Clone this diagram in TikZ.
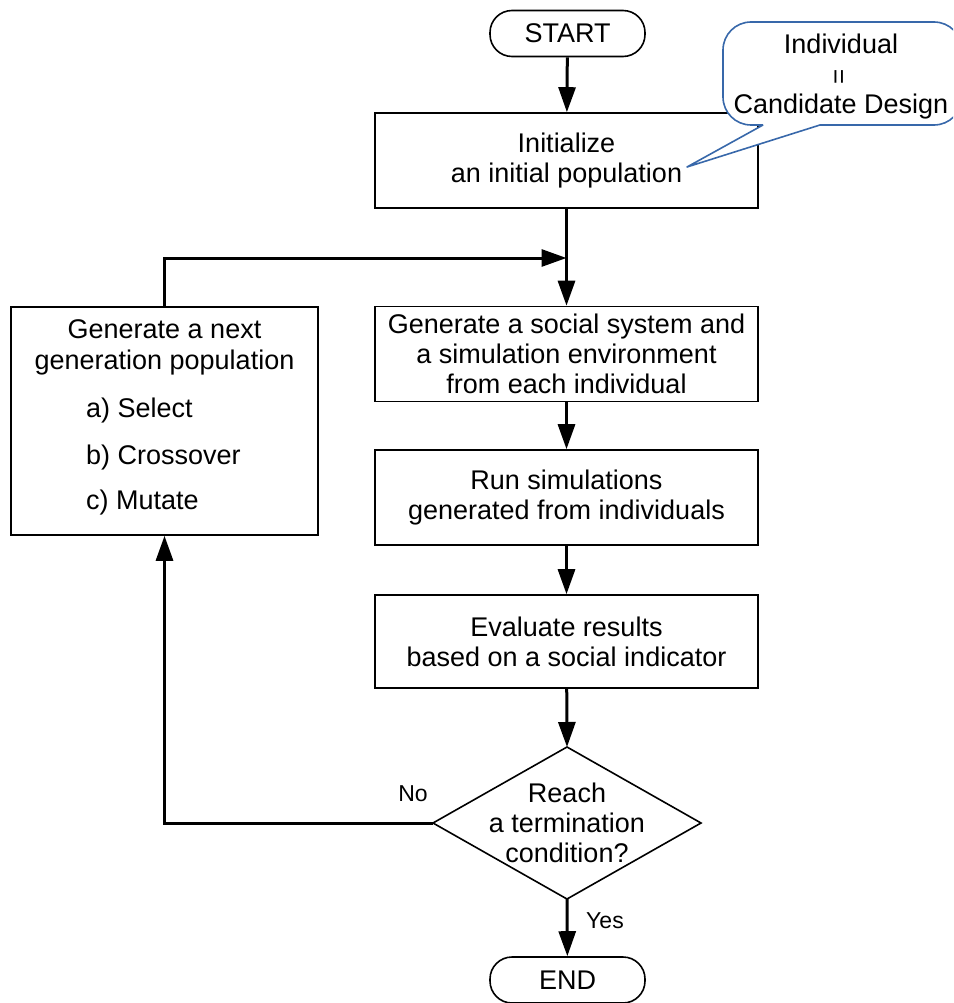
\documentclass[tikz,border=0pt]{standalone}
\usepackage{fontspec}
\setmainfont{Liberation Sans}
\usetikzlibrary{arrows.meta}
\definecolor{calloutblue}{RGB}{56,104,170}
\begin{document}
\begin{tikzpicture}[x=1pt,y=-1pt,
  txt/.style={font=\fontsize{27}{30}\selectfont, align=center, inner sep=0pt},
  lbl/.style={font=\fontsize{23}{26}\selectfont, inner sep=0pt},
  procbox/.style={draw, line width=1.6pt, minimum width=383pt, minimum height=95pt, txt},
  termbox/.style={draw, line width=1.6pt, rounded corners=22pt, minimum width=155pt, minimum height=46pt, txt},
  flow/.style={line width=3pt, -{Triangle[length=25pt,width=17pt]}},
  callout/.style={draw=calloutblue, line width=1.6pt, line join=round}]
\useasboundingbox (0,0) rectangle (953,1003);

% terminals
\node[termbox] (start) at (567.5,33.5) {START};
\node[termbox] (end) at (567.5,980) {END};

% process boxes of the main column
\node[procbox] (init) at (566.5,160.5) {Initialize\\an initial population};
\node[procbox] (social) at (566.5,354) {Generate a social system and\\a simulation environment\\from each individual};
\node[procbox] (run) at (566.5,497.5) {Run simulations\\generated from individuals};
\node[procbox, minimum height=93pt] (eval) at (566.5,641.5) {Evaluate results\\based on a social indicator};

% next-generation box with its step list
\node[draw, line width=1.6pt, minimum width=307pt, minimum height=228pt, inner sep=0pt] (gen) at (164.5,421) {};
\node[txt, font=\fontsize{27}{31}\selectfont] (gentitle) at (164.5,347) {Generate a next\\generation population};
\node[txt, anchor=base west] (sel) at (86,417.5) {a) Select};
\node[txt, anchor=base west] (cross) at (86,464) {b) Crossover};
\node[txt, anchor=base west] (mut) at (86,509.5) {c) Mutate};

% decision diamond
\draw[line width=1.6pt, line join=miter]
  (567,747) coordinate (dt) -- (701,823) coordinate (dr)
  -- (567,899) coordinate (db) -- (433,823) coordinate (dl) -- cycle;
\node[txt] (cond) at (567,823) {Reach\\a termination\\condition?};

% connectors
\coordinate (merge) at (566.5,258);
\draw[flow] (start) -- (init);
\draw[flow] (init) -- (social);
\draw[flow] (gen.north) |- (merge);
\draw[flow] (social) -- (run);
\draw[flow] (run) -- (eval);
\draw[flow] (eval) -- (dt);
\draw[flow] (db) -- (end);
\draw[flow] (dl) -| (gen.south);

\node[lbl, anchor=base] (nolbl) at (413,801) {No};
\node[lbl, anchor=base] (yeslbl) at (605,928) {Yes};

% callout balloon, drawn over the first box
\begin{scope}
\clip (0,0) rectangle (953,1003);
\fill[white, rounded corners=28pt] (723,22) rectangle (962,125);
\fill[white] (755,120) -- (763,125) -- (687,167) -- (820,125) -- (830,120) -- cycle;
\draw[callout, rounded corners=28pt] (820,125) -- (962,125) -- (962,22) -- (723,22) -- (723,125) -- (763,125);
\draw[callout] (763,125) -- (687,167) -- (820,125);
\end{scope}
\node[txt] (cl1) at (841,44) {Individual};
\node[txt, rotate=90, font=\fontsize{26}{28}\selectfont] (cl2) at (841,77) {=};
\node[txt] (cl3) at (841,107) {Candidate Design};
\end{tikzpicture}
\end{document}
